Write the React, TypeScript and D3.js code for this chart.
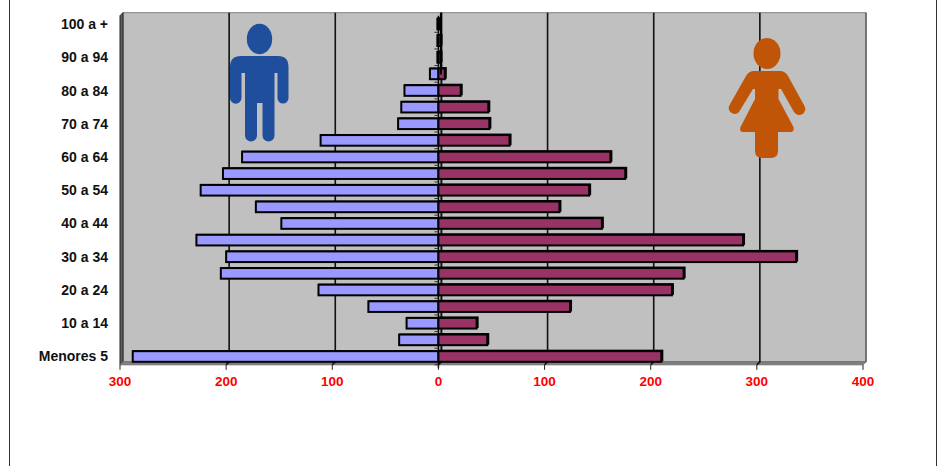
import * as d3 from "d3";

const categories = [
  "Menores 5", "5 a 9", "10 a 14", "15 a 19", "20 a 24", "25 a 29", "30 a 34",
  "35 a 39", "40 a 44", "45 a 49", "50 a 54", "55 a 59", "60 a 64", "65 a 69",
  "70 a 74", "75 a 79", "80 a 84", "85 a 89", "90 a 94", "95 a 99", "100 a +",
];
const hombres = [288, 37, 30, 66, 113, 205, 200, 228, 148, 172, 224, 203, 185, 111, 38, 35, 32, 8, 1, 1, 1];
const mujeres = [210, 46, 36, 124, 220, 231, 337, 287, 154, 114, 142, 176, 162, 67, 48, 47, 21, 6, 2, 2, 1];
const ticks = [-300, -200, -100, 0, 100, 200, 300, 400];

const depth = 3;
const x = d3.scaleLinear().domain([-300, 400]).range([120, 863]);
const y = d3.scaleBand<string>().domain(categories).range([364.8, 15.7]).paddingInner(0.36).paddingOuter(0.18);
const step = y.step();
const font = "'Liberation Sans', Arial, sans-serif";

export default function App() {
  const left = x(-300);
  const right = x(400);
  const bottom = y.range()[0];
  const top = y.range()[1];
  const zero = x(0);

  return (
    <svg
      width={941}
      height={466}
      style={{ position: "absolute", left: 0, top: 0, background: "#fff" }}
      fontFamily={font}
    >
      {/* outer frame */}
      <line x1={9.5} x2={9.5} y1={0} y2={466} stroke="#333" strokeWidth={1} />
      <line x1={936.5} x2={936.5} y1={0} y2={466} stroke="#333" strokeWidth={1} />

      {/* 3d walls */}
      <rect x={left + depth} y={top - depth} width={right - left} height={bottom - top} fill="#c0c0c0" stroke="#808080" strokeWidth={1} />
      <polygon
        points={`${left},${top} ${left + depth},${top - depth} ${left + depth},${bottom - depth} ${left},${bottom}`}
        fill="#606060"
        stroke="#222"
        strokeWidth={1}
      />
      <polygon
        points={`${left},${bottom} ${left + depth},${bottom - depth} ${right + depth},${bottom - depth} ${right},${bottom}`}
        fill="#808080"
        stroke="#707070"
        strokeWidth={1}
      />
      <line x1={right + depth} x2={right + depth} y1={top - depth} y2={bottom - depth} stroke="#606060" strokeWidth={1.5} />

      {/* gridlines */}
      {ticks.slice(1, -1).map((t) => (
        <path
          key={t}
          d={`M${x(t) + depth},${top - depth}V${bottom - depth}L${x(t)},${bottom}`}
          fill="none"
          stroke="#111"
          strokeWidth={1.6}
        />
      ))}

      {/* figures */}
      <g fill="#1f4e9c">
        <ellipse cx={259.5} cy={39} rx={12.7} ry={15.2} />
        <path d="M241,56H278Q288.5,56 288.5,67V98A5.5,5.5 0 0 1 277.5,98V73H274.5V135.5A6,6 0 0 1 262.5,135.5V103H257V135.5A6,6 0 0 1 245,135.5V73H241.5V98A5.5,5.5 0 0 1 230,98V67Q230,56 241,56Z" />
      </g>
      <g fill="#c05508">
        <ellipse cx={767} cy={53.5} rx={13.5} ry={15.5} />
        <path d="M754,71H780Q785,71 788,76L804.5,106A6,6 0 0 1 794,112L781,89H778.5V99L793.5,127Q794.5,132 790,132H778V151Q778,158 771,158H762Q755,158 755,151V132H743Q739,131.5 740.5,127L755,99V89H753L739,112A6,6 0 0 1 729,106L746,76Q749,71 754,71Z" />
      </g>

      {/* zero axis */}
      <line x1={zero + depth} x2={zero + depth} y1={top - depth} y2={bottom - depth} stroke="#111" strokeWidth={1.5} />
      <line x1={zero} x2={zero} y1={top} y2={bottom + 3} stroke="#000" strokeWidth={1.5} />

      {/* bars */}
      {categories.map((c, i) => {
        const by = y(c) as number;
        const h = y.bandwidth();
        return (
          <g key={c}>
            <line x1={zero - 4} x2={zero} y1={by - (step - h) / 2 + step} y2={by - (step - h) / 2 + step} stroke="#333" strokeWidth={1} />
            <rect x={x(-hombres[i])} y={by - 1} width={zero - x(-hombres[i]) + 1} height={h} fill="#000" />
            <rect x={x(-hombres[i])} y={by} width={zero - x(-hombres[i])} height={h} fill="#9999ff" stroke="#000" strokeWidth={2} />
            <rect x={zero} y={by - 1.5} width={x(mujeres[i]) - zero + 2} height={h + 1} fill="#000" />
            <rect x={zero} y={by} width={x(mujeres[i]) - zero} height={h} fill="#993366" stroke="#000" strokeWidth={2} />
          </g>
        );
      })}
      <line x1={zero + depth - 0.5} x2={zero + depth - 0.5} y1={top - depth} y2={(y("90 a 94") as number) + y.bandwidth() + 12} stroke="#000" strokeWidth={2} />

      {/* value axis */}
      {ticks.map((t) => (
        <g key={t} transform={`translate(${x(t)},${bottom})`}>
          <line y1={0} y2={5} stroke="#222" strokeWidth={1} />
          <text y={21} textAnchor="middle" fill="#ff0000" fontSize={13.5} fontWeight={700}>
            {Math.abs(t)}
          </text>
        </g>
      ))}

      {/* category labels, every other one */}
      {categories.map((c, i) =>
        i % 2 === 0 ? (
          <text
            key={c}
            x={108}
            y={(y(c) as number) + y.bandwidth() / 2 + 5}
            textAnchor="end"
            fill="#111"
            fontSize={14}
            fontWeight={700}
          >
            {c}
          </text>
        ) : null,
      )}
    </svg>
  );
}
